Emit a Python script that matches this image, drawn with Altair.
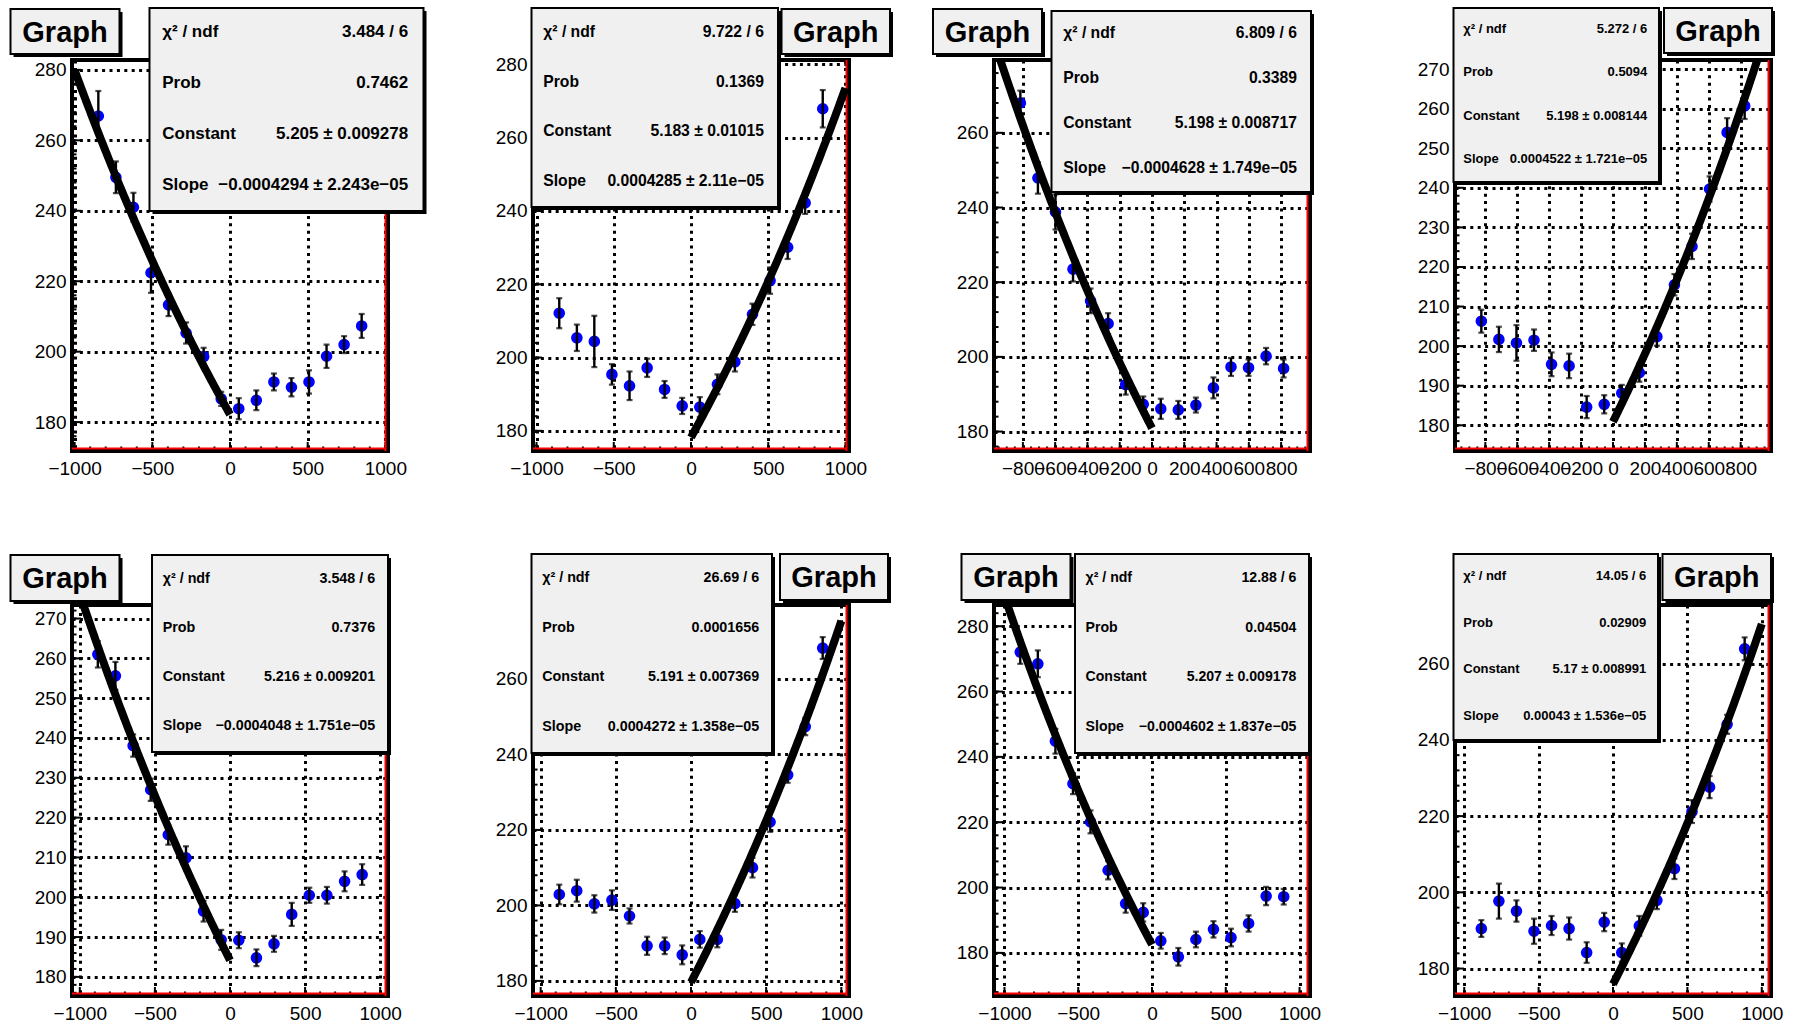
import altair as alt
import pandas as pd
import math

FONT = "Liberation Sans"

# ---------------- data ----------------
X1 = [-847.5, -734.5, -621.5, -508.5, -395.5, -282.5, -169.5, -56.5, 56.5, 169.5, 282.5, 395.5, 508.5, 621.5, 734.5, 847.5]
Y1 = [266.9, 249.5, 241.0, 222.4, 213.3, 205.3, 198.6, 186.6, 183.8, 186.2, 191.4, 189.9, 191.4, 198.7, 202.0, 207.3]
E1 = [7.1, 4.5, 4.1, 5.7, 3.2, 3.0, 2.5, 2.0, 3.0, 2.8, 2.4, 2.6, 3.3, 3.3, 2.4, 3.4]

X2 = [-853, -739, -626, -512, -398, -284, -171, -57, 57, 171, 284, 398, 512, 626, 739, 853]
Y2 = [212.1, 205.4, 204.4, 195.4, 192.3, 197.2, 191.3, 186.8, 186.5, 192.7, 198.8, 211.8, 221.0, 230.1, 242.2, 267.9]
E2 = [4.1, 3.6, 7.0, 2.8, 3.9, 2.5, 2.3, 2.2, 2.7, 2.7, 2.6, 2.9, 3.6, 3.2, 3.0, 5.1]

X3 = [-815.6, -706.9, -598.1, -489.4, -380.6, -271.9, -163.1, -54.4, 54.4, 163.1, 271.9, 380.6, 489.4, 598.1, 706.9, 815.6]
Y3 = [268.0, 247.9, 238.8, 223.5, 215.0, 208.9, 192.6, 187.3, 186.1, 185.8, 187.1, 191.7, 197.3, 197.1, 200.2, 196.9]
E3 = [3.3, 4.2, 4.7, 3.3, 3.3, 2.8, 2.7, 2.1, 2.7, 2.4, 2.0, 2.8, 2.4, 2.2, 2.2, 2.4]

X4 = [-825, -715, -605, -495, -385, -275, -165, -55, 55, 165, 275, 385, 495, 605, 715, 825]
Y4 = [206.3, 201.7, 200.8, 201.5, 195.4, 195.0, 184.6, 185.3, 188.1, 193.3, 202.4, 215.5, 225.2, 239.7, 254.0, 260.7]
E4 = [2.9, 3.2, 4.5, 2.7, 3.0, 3.1, 2.8, 2.3, 2.1, 2.3, 2.3, 2.7, 3.2, 3.2, 3.6, 3.3]

X5 = [-880, -763, -645, -528, -411, -293, -176, -58.7, 58.7, 176, 293, 411, 528, 645, 763, 880]
Y5 = [261.0, 255.6, 238.1, 227.0, 215.7, 209.9, 196.5, 189.3, 189.2, 184.8, 188.3, 195.7, 200.5, 200.5, 204.0, 205.7]
E5 = [3.3, 3.5, 2.8, 2.8, 2.5, 2.9, 2.6, 2.5, 2.0, 2.1, 2.0, 2.9, 1.9, 2.1, 2.5, 2.6]

X6 = [-876, -760, -643, -526, -409, -292, -175, -58.4, 58.4, 175, 292, 409, 526, 643, 760, 876]
Y6 = [202.9, 203.9, 200.4, 201.4, 197.2, 189.3, 189.3, 186.9, 191.0, 191.0, 200.5, 210.0, 222.1, 234.6, 247.4, 268.2]
E6 = [2.6, 2.9, 2.3, 2.6, 2.0, 2.4, 2.2, 2.5, 2.2, 2.1, 2.2, 2.6, 2.6, 2.1, 2.3, 2.9]

X7 = [-892.9, -773.8, -654.8, -535.7, -416.7, -297.6, -178.6, -59.5, 59.5, 178.6, 297.6, 416.7, 535.7, 654.8, 773.8, 892.9]
Y7 = [272.1, 268.5, 244.8, 231.8, 220.1, 205.3, 195.1, 192.4, 183.7, 178.8, 184.1, 187.2, 184.7, 189.0, 197.4, 197.2]
E7 = [3.6, 4.1, 3.8, 3.2, 3.5, 2.8, 2.8, 2.8, 2.4, 2.7, 2.4, 2.5, 2.7, 2.5, 2.8, 2.4]

X8 = [-885, -767, -649, -531, -413, -295, -177, -59, 59, 177, 295, 413, 531, 649, 767, 885]
Y8 = [190.5, 197.7, 195.1, 189.8, 191.3, 190.5, 184.2, 192.2, 184.2, 191.2, 197.9, 206.2, 221.2, 227.6, 244.1, 263.9]
E8 = [2.2, 4.6, 2.8, 3.3, 2.5, 2.9, 2.7, 2.4, 2.4, 2.6, 2.3, 2.7, 3.0, 2.9, 2.5, 3.0]

XS = [X1, X2, X3, X4, X5, X6, X7, X8]
YS = [Y1, Y2, Y3, Y4, Y5, Y6, Y7, Y8]
ES = [E1, E2, E3, E4, E5, E6, E7, E8]

CHI2 = ["3.484 / 6", "9.722 / 6", "6.809 / 6", "5.272 / 6", "3.548 / 6", "26.69 / 6", "12.88 / 6", "14.05 / 6"]
PROB = ["0.7462", "0.1369", "0.3389", "0.5094", "0.7376", "0.0001656", "0.04504", "0.02909"]
CONST = ["5.205 ± 0.009278", "5.183 ± 0.01015", "5.198 ± 0.008717", "5.198 ± 0.008144",
         "5.216 ± 0.009201", "5.191 ± 0.007369", "5.207 ± 0.009178", "5.17 ± 0.008991"]
SLOPE = ["−0.0004294 ± 2.243e−05", "0.0004285 ± 2.11e−05", "−0.0004628 ± 1.749e−05", "0.0004522 ± 1.721e−05",
         "−0.0004048 ± 1.751e−05", "0.0004272 ± 1.358e−05", "−0.0004602 ± 1.837e−05", "0.00043 ± 1.536e−05"]
C_VAL = [5.205, 5.183, 5.198, 5.198, 5.216, 5.191, 5.207, 5.17]
S_VAL = [-0.0004294, 0.0004285, -0.0004628, 0.0004522, -0.0004048, 0.0004272, -0.0004602, 0.00043]
FIT_LO = [-1000, 0, -1000, 0, -1000, 0, -1000, 0]
FIT_HI = [0, 1000, 0, 1000, 0, 1000, 0, 1000]
LABELS = ["χ² / ndf", "Prob", "Constant", "Slope"]
TITLE = "Graph"

# axis ranges and tick steps
XDOM = [(-1017, 1017), (-1023, 1023), (-979, 979), (-990, 990), (-1052, 1052), (-1051, 1051), (-1071, 1071), (-1062, 1062)]
YDOM = [(171.8, 282.8), (174.5, 281.2), (174.8, 279.5), (173.5, 272.3), (175.2, 273.4), (176.0, 279.6), (166.8, 286.5), (172.8, 275.4)]
XMAJ = [500, 500, 200, 200, 500, 500, 500, 500]
XMIN = [100, 100, 50, 50, 100, 100, 100, 100]
YMAJ = [20, 20, 20, 10, 10, 20, 20, 20]
YMIN = [4, 4, 4, 2, 2, 4, 4, 4]

# ---------------- layout (pixels, relative to each frame) ----------------
W, H = 316, 391
STAT_BOX = [(77.5, 351.5, -52, 151), (-1.5, 245, -52, 147), (57.5, 317, -49, 132), (-1.5, 204, -52, 122),
            (80, 316, -50, 147), (-1.5, 239, -51, 148), (81, 315, -51, 148), (-1.5, 203, -51, 135)]
STAT_FS = [17, 15.7, 15.7, 13, 14.3, 14.3, 14.1, 13]
TITLE_BOX = [(-61.5, 47.5, -51, -6), (248.5, 357, -51, -6), (-61, 48, -51, -6), (209, 317, -52, -7),
             (-61.5, 47.5, -50, -4), (247, 355, -51, -5), (-32.5, 76.5, -51, -5), (207.5, 316, -51, -5)]

ONE = pd.DataFrame({"k": [0]})


def box(x0, x1, y0, y1):
    shadow = alt.Chart(ONE).mark_rect(color="black").encode(
        x=alt.value(x0 + 3), x2=alt.value(x1 + 3), y=alt.value(y0 + 3), y2=alt.value(y1 + 3))
    face = alt.Chart(ONE).mark_rect(fill="#f0f0f0", stroke="black", strokeWidth=2).encode(
        x=alt.value(x0), x2=alt.value(x1), y=alt.value(y0), y2=alt.value(y1))
    return [shadow, face]


def text(s, x, y, size, align="left"):
    return alt.Chart(ONE).mark_text(text=s, font=FONT, fontSize=size, fontWeight="bold",
                                    align=align, baseline="middle", color="black").encode(
        x=alt.value(x), y=alt.value(y))


def panel(i):
    xs, ys, es = XS[i], YS[i], ES[i]
    df = pd.DataFrame({"x": xs, "y": ys,
                       "lo": [a - b for a, b in zip(ys, es)],
                       "hi": [a + b for a, b in zip(ys, es)]})
    xd, yd = XDOM[i], YDOM[i]
    xscale = alt.Scale(domain=list(xd), nice=False, zero=False)
    yscale = alt.Scale(domain=list(yd), nice=False, zero=False)
    xvals = list(range(int(math.ceil(xd[0] / XMAJ[i]) * XMAJ[i]), int(xd[1]) + 1, XMAJ[i]))
    yvals = list(range(int(math.ceil(yd[0] / YMAJ[i]) * YMAJ[i]), int(yd[1]) + 1, YMAJ[i]))
    grid = dict(grid=True, gridDash=[3, 4.4], gridColor="black", gridWidth=3, gridOpacity=1,
                ticks=False, tickSize=0, domain=False, title=None, labelOverlap=False,
                labelFlush=False, format="d")
    xaxis = alt.Axis(values=xvals, labelPadding=8, **grid)
    yaxis = alt.Axis(values=yvals, labelPadding=6, **grid)

    def X(f):
        return alt.X(f, scale=xscale, axis=xaxis)

    def Y(f):
        return alt.Y(f, scale=yscale, axis=yaxis)

    layers = []
    # ticks (inside the frame)
    for step, ln in ((XMIN[i], 4.5), (XMAJ[i], 9)):
        st = math.ceil(xd[0] / step) * step
        layers.append(alt.Chart(alt.sequence(st, xd[1], step, as_="t")).mark_rule(color="black", strokeWidth=2).encode(
            x=X("t:Q"), y=alt.value(H), y2=alt.value(H - ln)))
    for step, ln in ((YMIN[i], 4.5), (YMAJ[i], 9)):
        st = math.ceil(yd[0] / step) * step
        layers.append(alt.Chart(alt.sequence(st, yd[1], step, as_="t")).mark_rule(color="black", strokeWidth=2).encode(
            y=Y("t:Q"), x=alt.value(0), x2=alt.value(ln)))
    # red frame lines
    layers.append(alt.Chart(ONE).mark_rule(color="#ff0000", strokeWidth=2).encode(
        x=alt.value(0), x2=alt.value(W - 2), y=alt.value(H - 2.5)))
    layers.append(alt.Chart(ONE).mark_rule(color="#ff0000", strokeWidth=2).encode(
        x=alt.value(W - 2.5), y=alt.value(0), y2=alt.value(H)))
    # points and error bars
    layers.append(alt.Chart(df).mark_circle(size=135, color="#0000ff", opacity=1).encode(x=X("x:Q"), y=Y("y:Q")))
    layers.append(alt.Chart(df).mark_rule(color="black", strokeWidth=2.4).encode(x=X("x:Q"), y=Y("lo:Q"), y2="hi:Q"))
    layers.append(alt.Chart(df).mark_tick(color="black", orient="horizontal", size=6, thickness=2.2).encode(x=X("x:Q"), y=Y("lo:Q")))
    layers.append(alt.Chart(df).mark_tick(color="black", orient="horizontal", size=6, thickness=2.2).encode(x=X("x:Q"), y=Y("hi:Q")))
    # fit curve
    layers.append(alt.Chart(alt.sequence(FIT_LO[i], FIT_HI[i] + 1, 5, as_="t"))
                  .transform_calculate(f=f"exp({C_VAL[i]} + ({S_VAL[i]}) * datum.t)")
                  .mark_line(color="black", strokeWidth=8, clip=True)
                  .encode(x=X("t:Q"), y=Y("f:Q")))
    # stat box
    x0, x1, y0, y1 = STAT_BOX[i]
    fs = STAT_FS[i]
    layers += box(x0, x1, y0, y1)
    rh = (y1 - y0) / 4
    vals = [CHI2[i], PROB[i], CONST[i], SLOPE[i]]
    for r in range(4):
        yy = y0 + rh * (r + 0.5) - 1
        layers.append(text(LABELS[r], x0 + 0.75 * fs, yy, fs, "left"))
        layers.append(text(vals[r], x1 - 0.9 * fs, yy, fs, "right"))
    # title box
    tx0, tx1, ty0, ty1 = TITLE_BOX[i]
    layers += box(tx0, tx1, ty0, ty1)
    layers.append(text(TITLE, (tx0 + tx1) / 2, (ty0 + ty1) / 2 + 1, 29, "center"))
    return alt.layer(*layers).properties(width=W, height=H)


panels = [panel(i) for i in range(8)]
chart = (alt.concat(*panels, columns=4, spacing={"row": 154, "column": 145}, bounds="flush")
         .resolve_scale(x="independent", y="independent")
         .properties(padding={"left": 7, "top": 5, "right": 5, "bottom": 5}, background="white")
         .configure_view(stroke="black", strokeWidth=4)
         .configure_axis(labelFont=FONT, labelFontSize=19, labelColor="black"))

chart.save("out.html", embed_options={"renderer": "svg", "actions": False})
